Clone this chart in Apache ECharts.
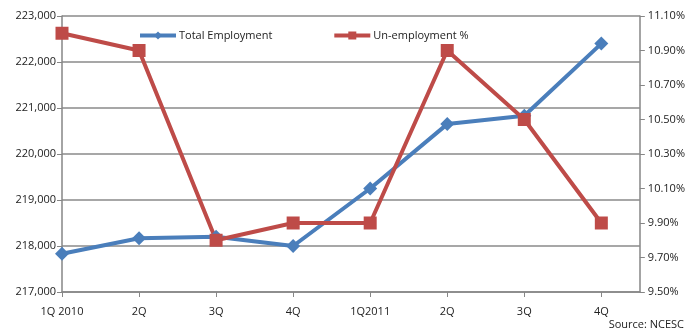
<!DOCTYPE html>
<html><head><meta charset="utf-8">
<script src="https://cdn.jsdelivr.net/npm/echarts@6/dist/echarts.min.js"></script>
<style>html,body{margin:0;padding:0;background:#fff}#c{width:688px;height:332px}</style>
</head><body><div id="c"></div>
<script>
var categories = ['1Q 2010','2Q','3Q','4Q','1Q2011','2Q','3Q','4Q'];
var totalEmployment = [217830, 218170, 218200, 218000, 219250, 220650, 220830, 222400];
var unemployment = [11.0, 10.9, 9.8, 9.9, 9.9, 10.9, 10.5, 9.9];
var leftTicks = [217000, 223000, 1000];
var rightTicks = [9.5, 11.1, 0.2];

var font = 'Open Sans';
var chart = echarts.init(document.getElementById('c'));
chart.setOption({
  animation: false,
  grid: {left: 62, right: 48, top: 16, bottom: 40, containLabel: false},
  legend: {
    top: 25, left: 133, itemGap: 60, itemWidth: 36, itemHeight: 10,
    lineStyle: {width: 4},
    textStyle: {fontFamily: font, fontSize: 11, color: '#222', padding: [0, 0, 0, -2]},
    data: ['Total Employment', 'Un-employment %']
  },
  xAxis: {
    type: 'value', min: 0, max: 7.5, interval: 1,
    axisLine: {show: true, lineStyle: {color: '#868686', width: 1.5}},
    axisTick: {show: true, length: 5, lineStyle: {color: '#868686'}},
    splitLine: {show: false},
    axisLabel: {
      showMaxLabel: false, margin: 14,
      fontFamily: font, fontSize: 11, color: '#222',
      formatter: function (v) { return categories[Math.round(v)] || ''; }
    }
  },
  yAxis: [{
    type: 'value', min: leftTicks[0], max: leftTicks[1], interval: leftTicks[2],
    position: 'left',
    axisLine: {show: true, lineStyle: {color: '#868686', width: 1.5}},
    axisTick: {show: true, length: 5, lineStyle: {color: '#868686'}},
    splitLine: {show: true, lineStyle: {color: '#8a8a8a', width: 1.5}},
    axisLabel: {fontFamily: font, fontSize: 11, color: '#222', margin: 6,
      formatter: function (v) { return v.toLocaleString('en-US'); }}
  }, {
    type: 'value', min: rightTicks[0], max: rightTicks[1], interval: rightTicks[2],
    position: 'right',
    axisLine: {show: true, lineStyle: {color: '#868686', width: 1.5}},
    axisTick: {show: true, length: 5, lineStyle: {color: '#868686'}},
    splitLine: {show: false},
    axisLabel: {fontFamily: font, fontSize: 11, color: '#222', margin: 8,
      formatter: function (v) { return v.toFixed(2) + '%'; }}
  }],
  series: [{
    name: 'Total Employment', type: 'line', yAxisIndex: 0,
    data: totalEmployment.map(function (v, i) { return [i, v]; }),
    symbol: 'diamond', symbolSize: 14,
    lineStyle: {color: '#4A7EBB', width: 4},
    itemStyle: {color: '#4A7EBB'}
  }, {
    name: 'Un-employment %', type: 'line', yAxisIndex: 1,
    data: unemployment.map(function (v, i) { return [i, v]; }),
    symbol: 'rect', symbolSize: 13,
    lineStyle: {color: '#BE4B48', width: 4},
    itemStyle: {color: '#BE4B48'}
  }],
  graphic: [{
    type: 'text', right: 4, bottom: 2,
    style: {text: 'Source: NCESC', font: '11px "Open Sans"', fill: '#222'}
  }]
});
</script></body></html>
